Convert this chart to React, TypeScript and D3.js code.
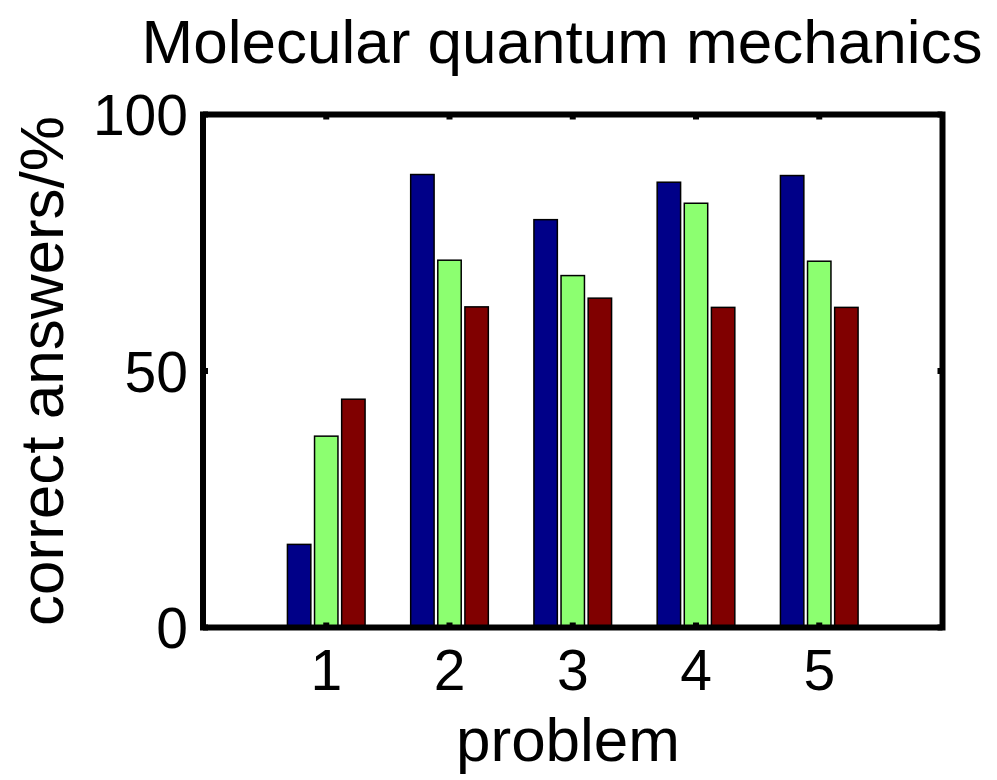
import React from "react";
import * as d3 from "d3";

const problems = [1, 2, 3, 4, 5];
const seriesA = [16.2, 88.3, 79.5, 86.8, 88.1];
const seriesB = [37.3, 71.6, 68.6, 82.7, 71.4];
const seriesC = [44.5, 62.5, 64.2, 62.4, 62.4];
const seriesColors = ["#000088", "#8cff70", "#800000"];
const yTicks = [0, 50, 100];

const W = 997;
const H = 780;
const margin = { top: 114.5, right: 54.5, bottom: 152.5, left: 203 };
const font = "'Liberation Sans', Arial, Helvetica, sans-serif";

const App = () => {
  const x = d3.scaleLinear().domain([0, 6]).range([margin.left, W - margin.right]);
  const y = d3.scaleLinear().domain([0, 100]).range([H - margin.bottom, margin.top]);

  const series = [seriesA, seriesB, seriesC];
  const barW = 0.19;
  const offset = 0.22;
  const tickLen = 5;

  const [x0, x1] = x.range();
  const [y0, y1] = y.range();

  return (
    <svg
      width={W}
      height={H}
      style={{ position: "absolute", left: 0, top: 0, background: "#fff" }}
      fontFamily={font}
    >
      {/* bars */}
      {series.map((vals, si) =>
        vals.map((v, i) => {
          const cx = problems[i] + (si - 1) * offset;
          const left = x(cx - barW / 2);
          return (
            <rect
              key={`${si}-${i}`}
              x={left}
              y={y(v)}
              width={x(cx + barW / 2) - left}
              height={y(0) - y(v)}
              fill={seriesColors[si]}
              stroke="#000"
              strokeWidth={1.5}
            />
          );
        })
      )}

      {/* ticks, inward, mirrored */}
      {problems.map((p) => (
        <g key={`xt${p}`} stroke="#000" strokeWidth={6}>
          <line x1={x(p)} x2={x(p)} y1={y0} y2={y0 - tickLen} />
          <line x1={x(p)} x2={x(p)} y1={y1} y2={y1 + tickLen} />
        </g>
      ))}
      {yTicks.map((t) => (
        <g key={`yt${t}`} stroke="#000" strokeWidth={6}>
          <line x1={x0} x2={x0 + tickLen} y1={y(t)} y2={y(t)} />
          <line x1={x1} x2={x1 - tickLen} y1={y(t)} y2={y(t)} />
        </g>
      ))}

      {/* frame */}
      <rect
        x={x0}
        y={y1}
        width={x1 - x0}
        height={y0 - y1}
        fill="none"
        stroke="#000"
        strokeWidth={6}
      />

      {/* tick labels */}
      {problems.map((p) => (
        <text key={`xl${p}`} x={x(p)} y={690} textAnchor="middle" fontSize={57}>
          {p}
        </text>
      ))}
      {yTicks.map((t) => (
        <text
          key={`yl${t}`}
          x={188}
          y={y(t)}
          dy="0.36em"
          textAnchor="end"
          fontSize={57}
        >
          {t}
        </text>
      ))}

      {/* labels */}
      <text x={568} y={761} textAnchor="middle" fontSize={62}>
        problem
      </text>
      <text
        transform={`translate(63, ${(y0 + y1) / 2}) rotate(-90)`}
        textAnchor="middle"
        fontSize={62}
      >
        correct answers/%
      </text>
      <text x={562} y={63} textAnchor="middle" fontSize={62}>
        Molecular quantum mechanics
      </text>
    </svg>
  );
};

export default App;
